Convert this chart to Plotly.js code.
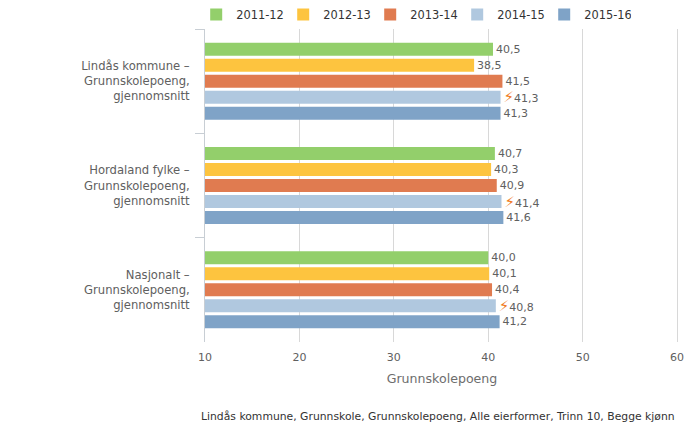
<!DOCTYPE html>
<html><head><meta charset="utf-8">
<script src="https://cdn.plot.ly/plotly-3.0.1.min.js"></script>
<style>html,body{margin:0;padding:0;background:#fff}</style></head>
<body><div id="chart" style="width:700px;height:446px"></div>
<script>
const categories = ["Lindås kommune –<br>Grunnskolepoeng,<br>gjennomsnitt","Hordaland fylke –<br>Grunnskolepoeng,<br>gjennomsnitt","Nasjonalt –<br>Grunnskolepoeng,<br>gjennomsnitt"];
const seriesNames = ["2011-12","2012-13","2013-14","2014-15","2015-16"];
const seriesColors = ["#93cf6b","#fdc43f","#e07b50","#b0c8df","#7fa3c7"];
const v1112 = [40.5,40.7,40.0];
const v1213 = [38.5,40.3,40.1];
const v1314 = [41.5,40.9,40.4];
const v1415 = [41.3,41.4,40.8];
const v1516 = [41.3,41.6,41.2];
const seriesValues = [v1112,v1213,v1314,v1415,v1516];
const flagged = [false,false,false,true,false];
const FONT = "DejaVu Sans, Verdana, sans-serif";
const fmt = v => v.toFixed(1).replace(".",",");
const traces = seriesNames.map((n,i)=>({
  type:"bar",orientation:"h",name:n,y:categories,x:seriesValues[i],
  marker:{color:seriesColors[i],line:{width:0}},
  text:seriesValues[i].map(v=>(flagged[i]?'<span style="color:#f07a1c;font-size:15px">⚡</span>':'')+fmt(v)),
  textposition:"outside",cliponaxis:false,constraintext:"none",textangle:0,
  textfont:{family:FONT,size:11,color:"#606060"},
  hoverinfo:"x+y"
}));
const layout = {
  width:700,height:446,
  margin:{l:204.5,r:21,t:29,b:104,pad:0},
  paper_bgcolor:"#fff",plot_bgcolor:"#fff",
  barmode:"group",bargap:0.233,bargroupgap:0.19,
  font:{family:FONT,size:11,color:"#606060"},
  xaxis:{range:[10,60.2],tickvals:[10,20,30,40,50,60],ticktext:["10","20","30","40","50","60"],
    showgrid:true,gridcolor:"#d8d8d8",gridwidth:1,zeroline:false,showline:false,ticks:"",
    tickfont:{family:FONT,size:11,color:"#606060"},ticklabelstandoff:7,
    title:{text:"Grunnskolepoeng",font:{family:FONT,size:12.6,color:"#6d6d6d"},standoff:11}},
  yaxis:{type:"category",autorange:"reversed",tickson:"boundaries",ticks:"outside",ticklen:9,tickcolor:"#c8ced4",
    showline:true,linecolor:"#c8ced4",linewidth:1,showgrid:false,zeroline:false,ticklabelstandoff:12,
    tickfont:{family:FONT,size:11.6,color:"#606060"}},
  legend:{orientation:"h",x:0.591,xanchor:"center",xref:"container",y:1,yref:"container",yanchor:"top",
    entrywidth:42,entrywidthmode:"pixels",traceorder:"normal",
    font:{family:FONT,size:11.4,color:"#333"}},
  annotations:[{xref:"paper",yref:"paper",x:1,xanchor:"right",y:0,yanchor:"top",xshift:-2,yshift:-66,
    text:"Lindås kommune, Grunnskole, Grunnskolepoeng, Alle eierformer, Trinn 10, Begge kjønn",showarrow:false,
    font:{family:FONT,size:10.8,color:"#333"}}],
  showlegend:true
};
Plotly.newPlot("chart",traces,layout,{displayModeBar:false,staticPlot:true});
</script></body></html>
